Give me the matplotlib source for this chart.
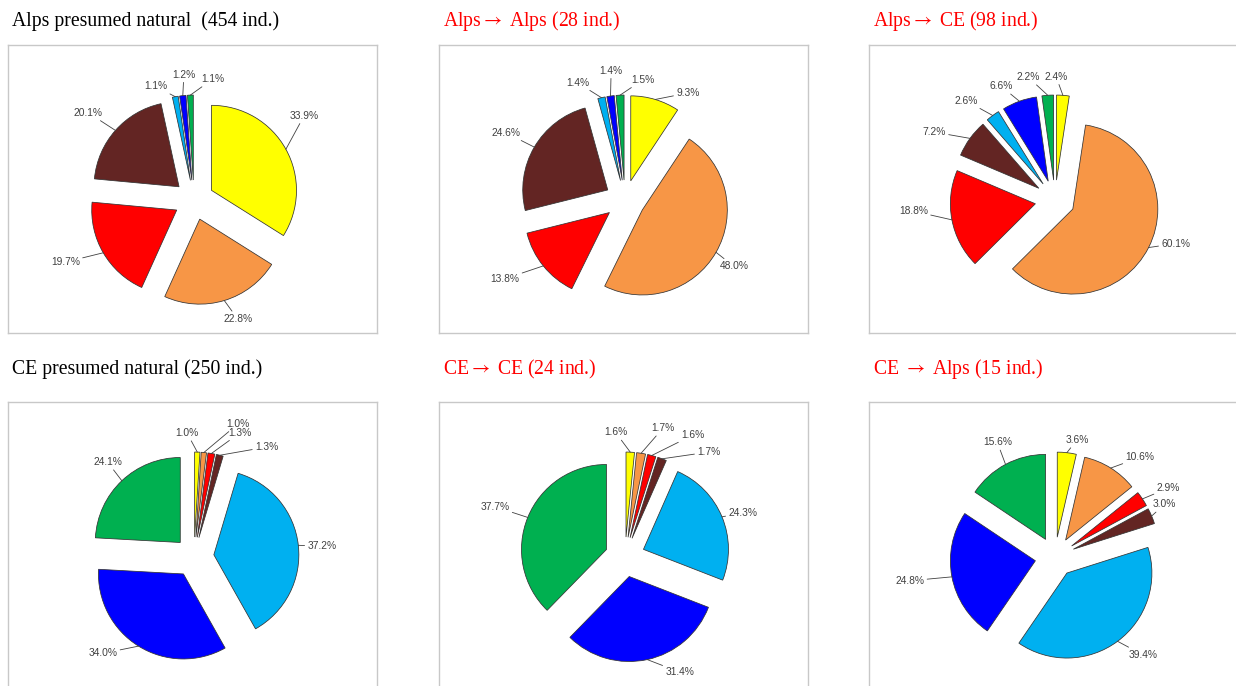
import numpy as np
import matplotlib
matplotlib.use('Agg')
import matplotlib.pyplot as plt

plt.rcParams['mathtext.fontset'] = 'stix'

# ---------------- data ----------------
groups = ['Yellow', 'Orange', 'Red', 'Brown', 'Light blue', 'Blue', 'Green']
colors = ['#FFFF00', '#F79646', '#FF0000', '#632523', '#00B0F0', '#0000FF', '#00B050']

titles = ["Alps presumed natural  (454 ind.)", "Alps$\\rightarrow$ Alps (28 ind.)", "Alps$\\rightarrow$ CE (98 ind.)",
          "CE presumed natural (250 ind.)", "CE$\\rightarrow$ CE (24 ind.)", "CE $\\rightarrow$ Alps (15 ind.)"]
title_colors = ['black', 'red', 'red', 'black', 'red', 'red']

alps_natural = [33.9, 22.8, 19.7, 20.1, 1.1, 1.2, 1.1]
alps_to_alps = [9.3, 48.0, 13.8, 24.6, 1.4, 1.4, 1.5]
alps_to_ce = [2.4, 60.1, 18.8, 7.2, 2.6, 6.6, 2.2]
ce_natural = [1.0, 1.0, 1.3, 1.3, 37.2, 34.0, 24.1]
ce_to_ce = [1.6, 1.7, 1.6, 1.7, 24.3, 31.4, 37.7]
ce_to_alps = [3.6, 10.6, 2.9, 3.0, 39.4, 24.8, 15.6]
series = [alps_natural, alps_to_alps, alps_to_ce, ce_natural, ce_to_ce, ce_to_alps]

# ---------------- label layout (angle nudge in deg, distance in radii) ----------------
label_nudge = [
    [-8.5, -3.4, 4.4, -2, -8.4, 1.5, 10.8],
    [13.7, 1.5, 5.6, -0.8, -9.1, 1.8, 11.2],
    [-3.8, -7.1, 6.4, -6.6, -5.5, -5.5, -8.4],
    [-5, 12.9, 10.8, 19.2, 1.6, 11.5, 1.1],
    [-7.2, 7.6, 14.3, 17.9, 2, -13.2, -1],
    [4.1, 8.4, 2.3, -2.7, -5.4, 1.6, 1.4],
]
label_dist = [
    [1.63, 1.49, 1.68, 1.61, 1.41, 1.48, 1.44],
    [1.46, 1.50, 1.69, 1.61, 1.49, 1.53, 1.43],
    [1.45, 1.51, 1.67, 1.63, 1.57, 1.48, 1.48],
    [1.46, 1.65, 1.56, 1.55, 1.51, 1.56, 1.51],
    [1.47, 1.58, 1.64, 1.58, 1.48, 1.50, 1.64],
    [1.40, 1.54, 1.56, 1.43, 1.55, 1.73, 1.51],
]

W, H = 1236, 686
fig = plt.figure(figsize=(W / 100, H / 100), dpi=100)
fig.patch.set_facecolor('white')

box_left = [8, 439, 869]
box_top = [45, 402]
box_w, box_h = 369, 288
cx_off, cy_off = 186, 155
R = 85.0
EXPL = 0.235
title_base = [26, 374]

label_font = ['Liberation Sans Narrow', 'Liberation Sans', 'DejaVu Sans']
title_font = ['Liberation Serif', 'DejaVu Serif']

for i, vals in enumerate(series):
    row, col = divmod(i, 3)
    L = box_left[col]
    T = box_top[row]
    ax = fig.add_axes([L / W, 1 - (T + box_h) / H, box_w / W, box_h / H])
    ax.pie(vals, colors=colors, startangle=90, counterclock=False,
           explode=[EXPL] * len(vals), radius=1.0, normalize=True,
           wedgeprops=dict(edgecolor='#333333', linewidth=0.55))
    ax.set_frame_on(True)
    ax.set_aspect('auto')
    ax.set_xlim(-cx_off / R, (box_w - cx_off) / R)
    ax.set_ylim(-(box_h - cy_off) / R, cy_off / R)
    ax.set_xticks([])
    ax.set_yticks([])
    for s in ax.spines.values():
        s.set_color('#c8c8c8')
        s.set_linewidth(1.0)

    v = np.array(vals, dtype=float)
    tot = v.sum()
    cum = np.concatenate([[0], np.cumsum(v)[:-1]])
    mids = 360.0 * (cum + v / 2) / tot
    for k, (val, m) in enumerate(zip(vals, mids)):
        t = np.deg2rad(m)
        arc = ((1 + EXPL) * np.sin(t), (1 + EXPL) * np.cos(t))
        la = np.deg2rad(m + label_nudge[i][k])
        d = label_dist[i][k]
        pos = (d * np.sin(la), d * np.cos(la))
        ax.annotate(f'{val:.1f}%', xy=arc, xytext=pos, ha='center', va='center',
                    fontsize=7.4, color='#404040', family=label_font,
                    arrowprops=dict(arrowstyle='-', color='#404040', lw=0.6,
                                    shrinkA=0, shrinkB=0))

    fig.text((L + 4) / W, 1 - title_base[row] / H, titles[i], ha='left', va='baseline',
             fontsize=14.2, color=title_colors[i], family=title_font)

fig.savefig('out.png', dpi=100, facecolor='white')
